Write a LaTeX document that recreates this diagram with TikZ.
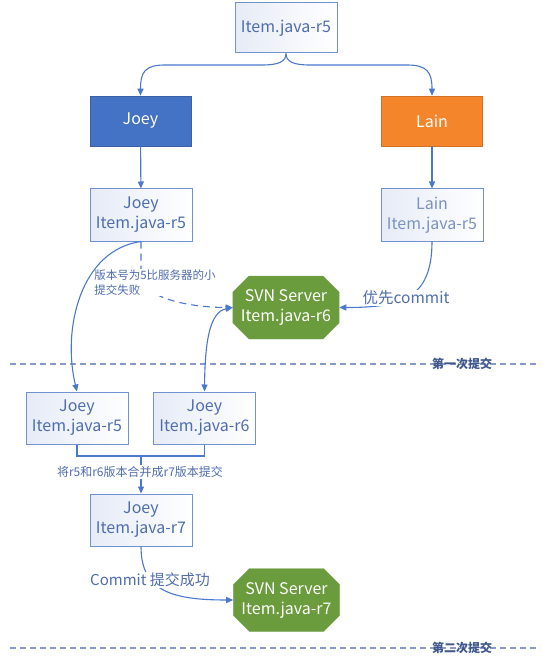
\documentclass[tikz,border=0pt]{standalone}
\usepackage{fontspec}
\setmainfont{Noto Sans CJK SC}
\usetikzlibrary{positioning,
				arrows.meta,
				shapes.misc,
				calc}
\definecolor{linkblue}{HTML}{4A78CC}
\definecolor{framblue}{HTML}{7191D2}
\definecolor{textblue}{HTML}{4F6DAE}
\definecolor{paleblue}{HTML}{E6EBF6}
\definecolor{joeyblue}{HTML}{4472C4}
\definecolor{lainorange}{HTML}{F5852B}
\definecolor{svngreen}{HTML}{6A9B3C}
\definecolor{sepblue}{HTML}{8A9BCB}
\tikzset{
	filebox/.style={draw=framblue, line width=1pt, left color=paleblue, right color=white,
		minimum width=102pt, minimum height=52pt, align=center, text=textblue,
		font=\fontsize{16}{20}\selectfont},
	userbox/.style={draw=#1!85!black, line width=.6pt, fill=#1, text=white,
		minimum width=101pt, minimum height=50pt, font=\fontsize{16}{20}\selectfont},
	server/.style={chamfered rectangle, chamfered rectangle xsep=8pt, chamfered rectangle ysep=8pt,
		draw=svngreen!85!white, fill=svngreen, text=white, minimum width=101pt, minimum height=63pt,
		inner sep=0pt, align=center, font=\fontsize{16}{20}\selectfont},
	link/.style={draw=linkblue, line width=1.1pt, -{Triangle[length=7pt,width=6pt]}},
	plain/.style={draw=linkblue, line width=1.1pt},
	longdash/.style={dash pattern=on 7pt off 5pt},
	note/.style={text=textblue, inner sep=1pt},
	sepline/.style={draw=sepblue, line width=1.4pt, dash pattern=on 6pt off 4pt},
	seplabel/.style={text=textblue!80!black, font=\fontsize{12}{14}\selectfont\bfseries}
}
\begin{document}
\begin{tikzpicture}[x=1pt,y=-1pt]
	\useasboundingbox (0,0) rectangle (559,668);
	% first round
	\node[filebox, minimum height=50pt] (base) at (286,28) {Item.java-r5};
	\node[userbox=joeyblue] (joey) at (140.5,121) {Joey};
	\node[userbox=lainorange] (lain) at (432,121) {Lain};
	\node[filebox] (joeyold) at (141,215) {Joey\\Item.java-r5};
	\node[filebox, text=textblue!75] (lainold) at (432,215) {Lain\\Item.java-r5};
	\node[server] (svnsix) at (286,307.5) {SVN Server\\Item.java-r6};

	\draw[link] (base.south) .. controls (286,62) and (278,65) .. (262,65) -- (165,65)
		.. controls (145,65) and (140.5,72) .. (joey.north);
	\draw[link] (base.south) .. controls (286,62) and (294,65) .. (310,65) -- (407,65)
		.. controls (427,65) and (432,72) .. (lain.north);
	\draw[link] (joey) -- (joeyold);
	\draw[link] (lain) -- (lainold);

	\draw[link, longdash] (joeyold.south) -- (141,275) .. controls (141,298) and (190,307.5) .. (svnsix.west);
	\node[note, fill=white, align=left, font=\fontsize{11.5}{15}\selectfont] (fail) at (155,282.5)
		{版本号为5比服务器的小\\提交失败};
	\draw[link] (lainold.south) .. controls (432,300) and (400,307.5) .. (svnsix.east);
	\node[note, fill=white, font=\fontsize{15.5}{18}\selectfont] (first) at (406,298) {优先commit};

	\draw[sepline] (10,364) -- (540,364);
	\node[seplabel] (sepone) at (462,364) {第一次提交};

	% merge
	\node[filebox] (joeyfive) at (77,418) {Joey\\Item.java-r5};
	\node[filebox] (joeysix) at (204.5,418) {Joey\\Item.java-r6};
	\node[filebox] (joeyseven) at (141,520) {Joey\\Item.java-r7};
	\node[server] (svnseven) at (286.5,600) {SVN Server\\Item.java-r7};

	\draw[link] (joeyold.south) .. controls (80,250) and (62,330) .. (joeyfive.north);
	\draw[link, {Triangle[length=7pt,width=6pt]}-{Triangle[length=7pt,width=6pt]}]
		(svnsix.west) .. controls (210,312) and (205,340) .. (joeysix.north);

	\coordinate (merge) at (141,456);
	\draw[plain] (joeyfive.south) |- (merge) -| (joeysix.south);
	\draw[link] (merge) -- (joeyseven.north);
	\node[note, fill=white, font=\fontsize{12}{14}\selectfont] (mergetext) at (140,472)
		{将r5和r6版本合并成r7版本提交};

	\draw[link] (joeyseven.south) .. controls (141,590) and (170,600) .. (svnseven.west);
	\node[note, fill=white, font=\fontsize{15}{18}\selectfont] (second) at (150,580) {Commit 提交成功};

	\draw[sepline] (10,648) -- (540,648);
	\node[seplabel] (septwo) at (462,648) {第二次提交};
\end{tikzpicture}
\end{document}
